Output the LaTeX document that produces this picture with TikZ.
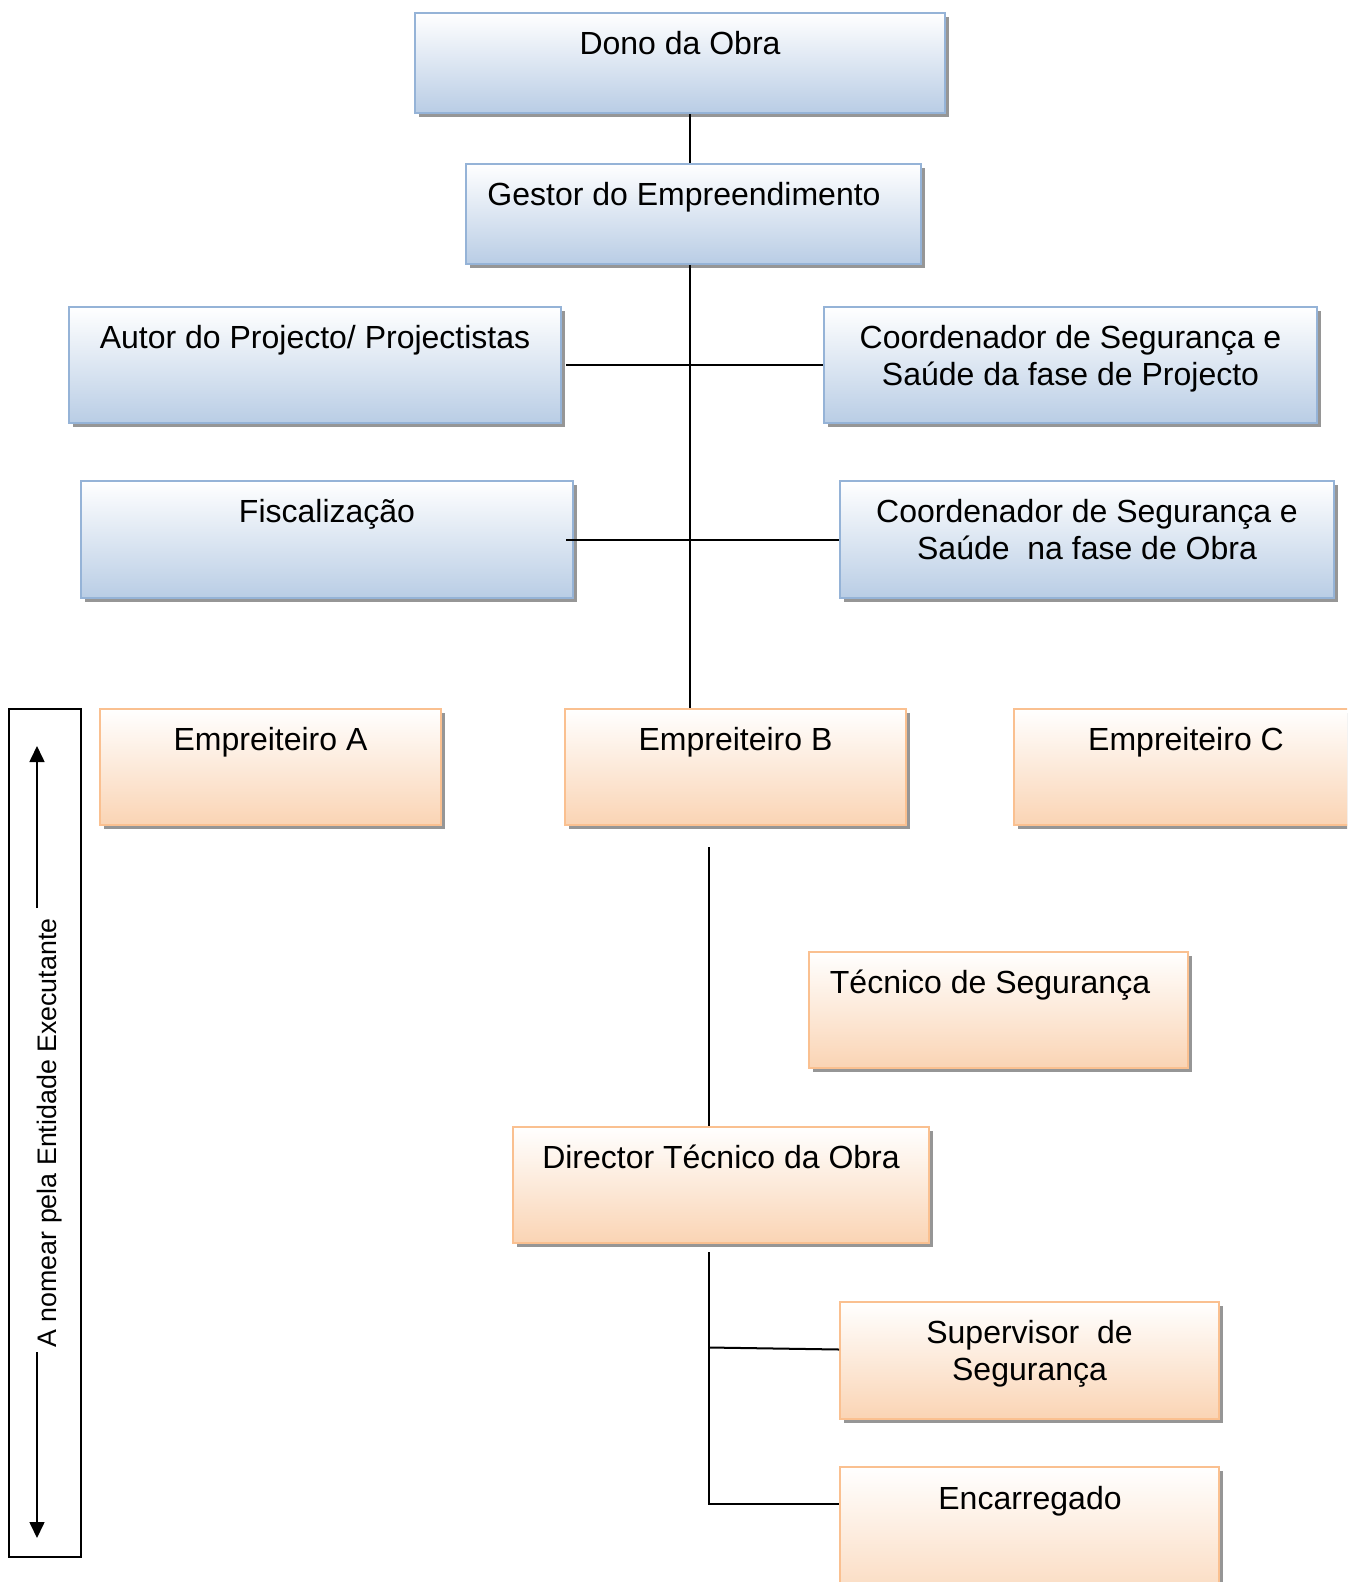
\documentclass[tikz,border=0pt]{standalone}
\usepackage{fontspec}
\setmainfont{Liberation Sans}
\usetikzlibrary{fit,shadows,arrows.meta}
\definecolor{bbord}{RGB}{149,179,215}
\definecolor{bbot}{RGB}{185,205,229}
\definecolor{obord}{RGB}{250,192,144}
\definecolor{obot}{RGB}{250,212,180}
\definecolor{shadowc}{RGB}{150,150,150}
\tikzset{
  basebox/.style={inner sep=0pt, line width=1pt, top color=white,
    drop shadow={shadow xshift=2pt, shadow yshift=-2pt, fill=shadowc, opacity=1}},
  bluebox/.style={basebox, draw=bbord, bottom color=bbot},
  orangebox/.style={basebox, draw=obord, bottom color=obot},
  lbl/.style={inner sep=0pt, align=center, font=\fontsize{16}{18.3}\selectfont},
  conn/.style={line width=1pt, black},
  sidearrow/.style={line width=0.8pt, -{Triangle[length=8pt,width=7.5pt]}}
}
\begin{document}
\begin{tikzpicture}[x=0.5pt,y=-0.5pt]
\useasboundingbox (0,0) rectangle (1347,1582);
\clip (0,0) rectangle (1347,1582);
\fill[white] (0,0) rectangle (1347,1582);

% boxes
\node[bluebox, fit={(415,13) (945,113)}] (dono) {};
\node[bluebox, fit={(466,164) (921,264)}] (gestor) {};
\node[bluebox, fit={(69,307) (561,423)}] (autor) {};
\node[bluebox, fit={(824,307) (1317,423)}] (coordp) {};
\node[bluebox, fit={(81,481) (573,598)}] (fisc) {};
\node[bluebox, fit={(840,481) (1334,598)}] (coordo) {};
\node[orangebox, fit={(100,709) (441,825)}] (ea) {};
\node[orangebox, fit={(565,709) (906,825)}] (eb) {};
\node[orangebox, fit={(1014,709) (1360,825)}] (ec) {};
\node[orangebox, fit={(809,952) (1188,1068)}] (tec) {};
\node[orangebox, fit={(513,1127) (929,1243)}] (dir) {};
\node[orangebox, fit={(840,1302) (1219,1419)}] (sup) {};
\node[orangebox, fit={(840,1467) (1219,1620)}] (enc) {};

% labels
\node[lbl, anchor=north] (donoT) at ([yshift=-8.2pt]dono.north) {\strut Dono da Obra};
\node[lbl, anchor=north] (gestorT) at ([xshift=-4.75pt,yshift=-8.2pt]gestor.north) {\strut Gestor do Empreendimento};
\node[lbl, anchor=north] (autorT) at ([yshift=-8.2pt]autor.north) {\strut Autor do Projecto/ Projectistas};
\node[lbl, anchor=north] (coordpT) at ([yshift=-8.2pt]coordp.north) {\strut Coordenador de Segurança e\\Saúde da fase de Projecto};
\node[lbl, anchor=north] (fiscT) at ([yshift=-8.2pt]fisc.north) {\strut Fiscalização};
\node[lbl, anchor=north] (coordoT) at ([yshift=-8.2pt]coordo.north) {\strut Coordenador de Segurança e\\Saúde~ na fase de Obra};
\node[lbl, anchor=north] (eaT) at ([yshift=-8.2pt]ea.north) {\strut Empreiteiro A};
\node[lbl, anchor=north] (ebT) at ([yshift=-8.2pt]eb.north) {\strut Empreiteiro B};
\node[lbl, anchor=north] (ecT) at ([xshift=-0.5pt,yshift=-8.2pt]ec.north) {\strut Empreiteiro C};
\node[lbl, anchor=north] (tecT) at ([xshift=-4.25pt,yshift=-8.2pt]tec.north) {\strut Técnico de Segurança};
\node[lbl, anchor=north] (dirT) at ([yshift=-8.2pt]dir.north) {\strut Director Técnico da Obra};
\node[lbl, anchor=north] (supT) at ([yshift=-8.2pt]sup.north) {\strut Supervisor~ de\\Segurança};
\node[lbl, anchor=north] (encT) at (1030,1467) [yshift=-8.2pt] {\strut Encarregado};

% connectors
\coordinate (spine) at (690,0);
\coordinate (spineB) at (709,0);
\draw[conn] (dono.south -| spine) -- (gestor.north -| spine);
\draw[conn] (gestor.south -| spine) -- (eb.north -| spine);
\draw[conn] ([xshift=2pt]autor.east) -- (coordp.west);
\draw[conn] ([xshift=-4pt]fisc.east) -- (coordo.west);
\draw[conn] ([yshift=-10.5pt]eb.south -| spineB) -- (dir.north -| spineB);
\draw[conn] ([yshift=-4pt]dir.south -| spineB) |- ([yshift=-19pt]enc.north west);
\draw[conn] ([yshift=6.5pt]sup.west -| spineB) -- ([yshift=5.5pt]sup.west);

% side annotation
\node[draw, line width=1pt, inner sep=0pt, fit={(9,709) (81,1557)}] (side) {};
\node[rotate=90, anchor=base, inner sep=0pt, font=\fontsize{13.4}{16}\selectfont] (sideT) at (56,1133) {A nomear pela Entidade Executante};
\coordinate (upS) at (37,908);
\coordinate (upE) at (37,746);
\coordinate (dnS) at (37,1352);
\coordinate (dnE) at (37,1538);
\draw[sidearrow] (upS) -- (upE);
\draw[sidearrow] (dnS) -- (dnE);
\end{tikzpicture}
\end{document}
